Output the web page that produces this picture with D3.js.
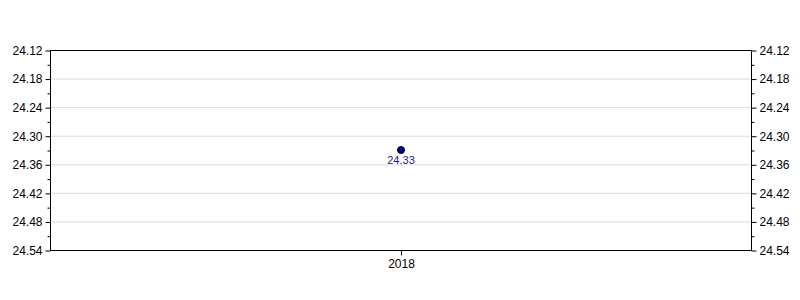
<!DOCTYPE html>
<html>
<head>
<meta charset="utf-8">
<script src="https://cdn.jsdelivr.net/npm/d3@7"></script>
<style>
  body { margin: 0; background: #fff; }
  text { font-family: "Liberation Sans", Arial, sans-serif; }
</style>
</head>
<body>
<div id="chart"></div>
<script>
// data
var years = ["2018"];
var values = [24.33];
var yTicks = [24.12, 24.18, 24.24, 24.30, 24.36, 24.42, 24.48, 24.54];
var yMinor = [24.15, 24.21, 24.27, 24.33, 24.39, 24.45, 24.51];

var width = 800, height = 300;
var margin = {top: 50, right: 49, bottom: 50, left: 50};
var w = width - margin.left - margin.right;
var h = height - margin.top - margin.bottom;

var svg = d3.select("#chart").append("svg")
  .attr("width", width)
  .attr("height", height);

var g = svg.append("g")
  .attr("transform", "translate(" + margin.left + "," + margin.top + ")");

var x = d3.scalePoint().domain(years).range([0, w]).padding(0.5);
var y = d3.scaleLinear().domain([24.12, 24.54]).range([0, h]);

// grid lines
g.append("g").selectAll("line")
  .data(yTicks.slice(1, -1))
  .join("line")
  .attr("x1", 0).attr("x2", w)
  .attr("y1", d => y(d) + 0.5).attr("y2", d => y(d) + 0.5)
  .attr("stroke", "#dcdcdc");

// frame
g.append("rect")
  .attr("x", 0.5).attr("y", 0.5)
  .attr("width", w).attr("height", h)
  .attr("fill", "none")
  .attr("stroke", "#000");

function styleAxis(sel) {
  sel.select(".domain").remove();
  sel.selectAll("text").attr("font-size", 12).attr("fill", "#000")
    .attr("font-family", "'Liberation Sans', Arial, sans-serif");
  sel.selectAll(".tick line").attr("stroke", "#000");
}

// left axis
g.append("g")
  .attr("transform", "translate(0.5,0.5)")
  .call(d3.axisLeft(y).tickValues(yTicks).tickFormat(d3.format(".2f")).tickSize(5).tickPadding(3))
  .call(styleAxis);
g.append("g")
  .attr("transform", "translate(0.5,0.5)")
  .call(d3.axisLeft(y).tickValues(yMinor).tickFormat("").tickSize(3))
  .call(styleAxis);

// right axis
g.append("g")
  .attr("transform", "translate(" + (w + 0.5) + ",0.5)")
  .call(d3.axisRight(y).tickValues(yTicks).tickFormat(d3.format(".2f")).tickSize(5).tickPadding(3))
  .call(styleAxis);
g.append("g")
  .attr("transform", "translate(" + (w + 0.5) + ",0.5)")
  .call(d3.axisRight(y).tickValues(yMinor).tickFormat("").tickSize(3))
  .call(styleAxis);

// bottom axis
g.append("g")
  .attr("transform", "translate(0.5," + (h + 0.5) + ")")
  .call(d3.axisBottom(x).tickSize(5).tickPadding(4))
  .call(styleAxis);

// points
g.selectAll("circle.pt")
  .data(values)
  .join("circle")
  .attr("class", "pt")
  .attr("cx", (d, i) => x(years[i]) + 0.5)
  .attr("cy", d => y(d))
  .attr("r", 3.5)
  .attr("fill", "#00008b")
  .attr("stroke", "#000")
  .attr("stroke-width", 1);

// value labels
g.selectAll("text.lbl")
  .data(values)
  .join("text")
  .attr("class", "lbl")
  .attr("x", (d, i) => x(years[i]) + 0.5)
  .attr("y", d => y(d) + 14)
  .attr("text-anchor", "middle")
  .attr("font-size", 11)
  .attr("fill", "#1a1a8c")
  .text(d => d3.format(".2f")(d));
</script>
</body>
</html>
